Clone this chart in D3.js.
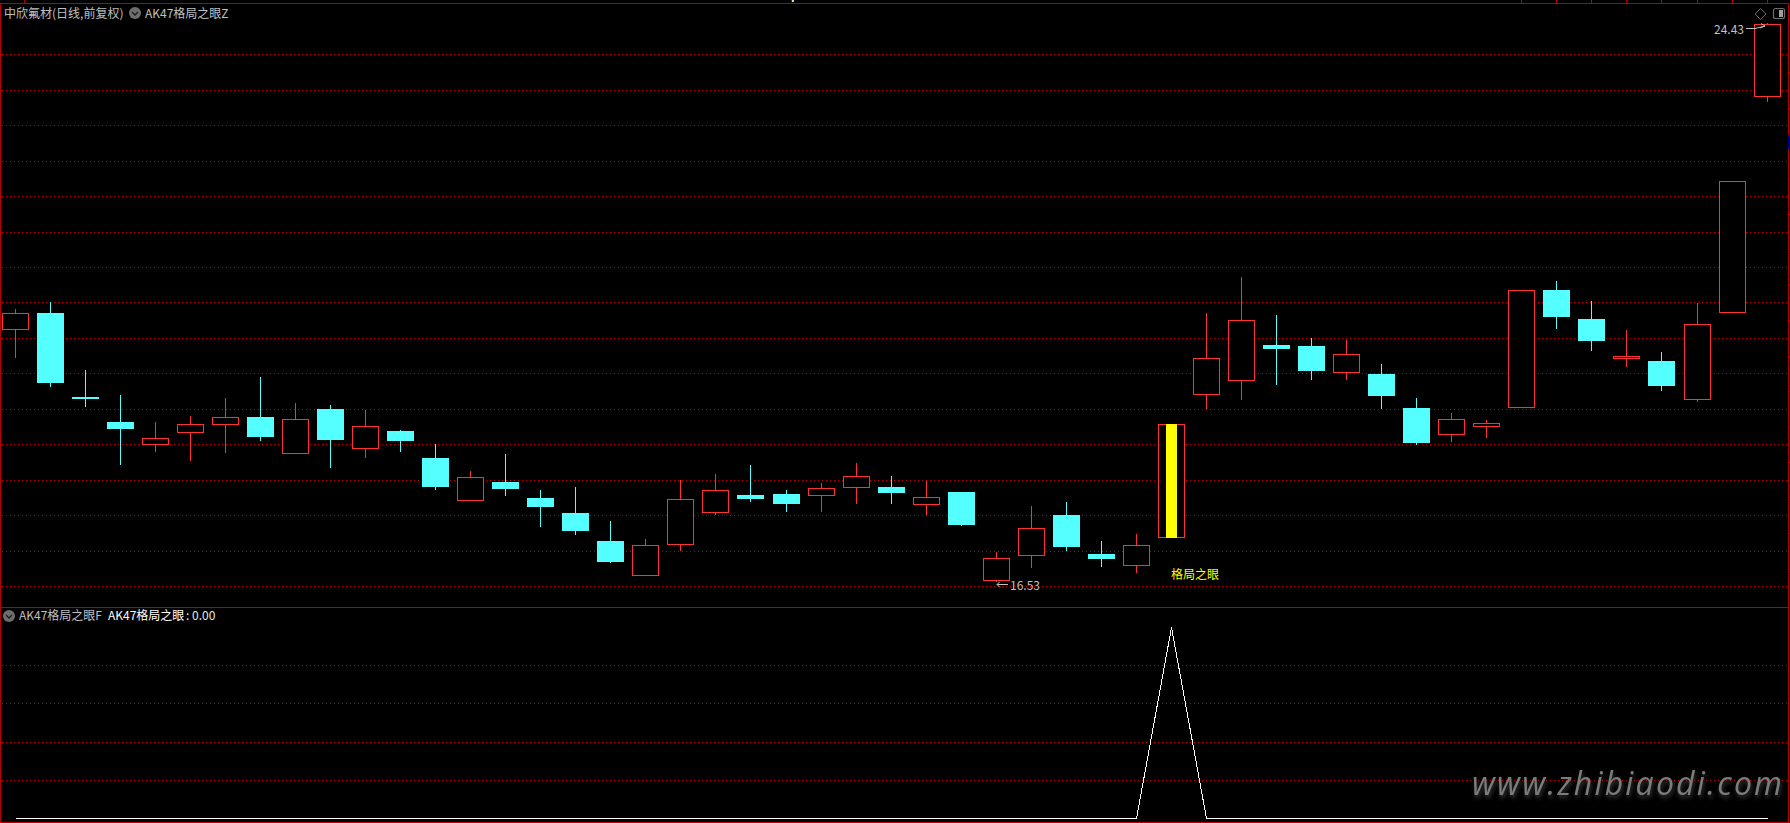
<!DOCTYPE html>
<html>
<head>
<meta charset="utf-8">
<title>中欣氟材 AK47格局之眼</title>
<script src="https://cdn.jsdelivr.net/npm/d3@7/dist/d3.min.js"></script>
<style>
html,body{margin:0;padding:0;background:#000;overflow:hidden}
svg{display:block}
text{font-family:"Noto Sans CJK SC","Noto Sans",sans-serif;font-size:12px}
</style>
</head>
<body>
<svg id="chart" width="1790" height="823"></svg>
<script>
const openPrices = [20.11,20.33,19.14,18.79,18.48,18.65,18.76,18.86,18.35,18.97,18.42,18.66,18.28,17.69,17.94,17.72,17.51,17.11,16.63,17.07,17.52,17.76,17.77,17.76,17.87,17.87,17.63,17.80,16.56,16.91,17.48,16.93,16.77,17.17,19.19,19.38,19.88,19.87,19.50,19.47,18.99,18.62,18.73,19.00,20.66,20.25,19.70,19.65,19.12,20.35,23.40];
const highPrices = [20.39,20.49,19.53,19.17,18.79,18.88,19.13,19.43,19.06,19.03,18.96,18.68,18.48,18.10,18.34,17.83,17.87,17.39,17.14,17.97,18.06,18.18,17.83,17.93,18.21,18.03,17.96,17.80,16.95,17.60,17.66,17.11,17.21,18.76,20.33,20.84,20.30,19.98,19.95,19.61,19.13,18.92,18.82,20.66,20.78,20.50,20.09,19.78,20.47,22.20,24.43];
const lowPrices = [19.70,19.29,19.00,18.18,18.37,18.24,18.35,18.52,18.35,18.14,18.28,18.37,17.83,17.69,17.75,17.31,17.19,16.80,16.63,16.97,17.48,17.66,17.52,17.52,17.63,17.63,17.48,17.32,16.53,16.73,16.97,16.74,16.66,17.17,18.97,19.10,19.31,19.38,19.38,18.97,18.47,18.51,18.57,19.00,20.11,19.79,19.57,19.23,19.07,20.35,23.31];
const closePrices = [20.33,19.34,19.12,18.69,18.57,18.76,18.86,18.58,18.83,18.54,18.73,18.52,17.87,18.01,17.84,17.59,17.25,16.81,17.05,17.70,17.83,17.70,17.63,17.86,18.03,17.79,17.73,17.34,16.87,17.29,17.02,16.86,17.05,18.76,19.70,20.23,19.82,19.51,19.75,19.16,18.49,18.83,18.78,20.66,20.28,19.94,19.72,19.30,20.18,22.20,24.42];
const signalValues = [0,0,0,0,0,0,0,0,0,0,0,0,0,0,0,0,0,0,0,0,0,0,0,0,0,0,0,0,0,0,0,0,0,100,0,0,0,0,0,0,0,0,0,0,0,0,0,0,0,0,0];
const priceGrid = [16.47,16.97,17.48,17.97,18.48,18.97,19.48,19.98,20.49,20.98,21.48,21.98,22.48,22.99,23.48,23.99];
const signalGrid = [20,40,60,80];
const patternIndex = 33;
const patternLabel = "格局之眼";
const stockTitle = "中欣氟材(日线,前复权)";
const mainIndicator = "AK47格局之眼Z";
const subIndicator = "AK47格局之眼F";
const subSeriesName = "AK47格局之眼";
const subSeriesValue = ": 0.00";
const maxLabel = "24.43";
const minLabel = "16.53";
const watermark = "www.zhibiaodi.com";

const RED = "#ff3232", CYAN = "#54ffff", FRAME = "#b80000", GRID = "#c00000", GREY = "#c0c0c0", ICON = "#6e6e6e";
const svg = d3.select("#chart");
const W = 1790, H = 823;

const count = openPrices.length;
const xRaw = d3.scaleLinear().domain([0, count - 1]).range([15.17, 1767.095]);
const x = i => Math.floor(xRaw(i));
const yRaw = d3.scaleLinear().domain([16.53, 24.43]).range([582, 23]);
const y = v => Math.round(yRaw(v));
const ySub = d3.scaleLinear().domain([0, 100]).range([818, 627]);
const halfBody = 13;

const candles = d3.range(count).map(i => ({
  i, o: openPrices[i], h: highPrices[i], l: lowPrices[i], c: closePrices[i], up: closePrices[i] >= openPrices[i]
}));

// grid
const grid = svg.append("g").attr("shape-rendering", "crispEdges");
grid.selectAll("line.main").data(priceGrid).join("line").attr("class", "main")
  .attr("x1", 2).attr("x2", 1787)
  .attr("y1", d => y(d) + .5).attr("y2", d => y(d) + .5)
  .attr("stroke", GRID).attr("stroke-dasharray", "1 3");
grid.selectAll("line.sub").data(signalGrid).join("line").attr("class", "sub")
  .attr("x1", 2).attr("x2", 1787)
  .attr("y1", d => Math.round(ySub(d)) + .5).attr("y2", d => Math.round(ySub(d)) + .5)
  .attr("stroke", GRID).attr("stroke-dasharray", "1 3");

// frame
const frame = svg.append("g").attr("shape-rendering", "crispEdges").attr("fill", FRAME);
frame.append("rect").attr("x", 0).attr("y", 3).attr("width", 1789).attr("height", 1);
frame.append("rect").attr("x", 0).attr("y", 607).attr("width", 1789).attr("height", 1);
frame.append("rect").attr("x", 0).attr("y", 822).attr("width", 1789).attr("height", 1);
frame.append("rect").attr("x", 0).attr("y", 3).attr("width", 1).attr("height", 820);
frame.append("rect").attr("x", 1788).attr("y", 3).attr("width", 1).attr("height", 820);
frame.append("rect").attr("x", 24).attr("y", 0).attr("width", 1).attr("height", 3);
frame.selectAll("rect.top").data(d3.range(count - 8, count)).join("rect").attr("class", "top")
  .attr("x", d => x(d)).attr("y", 0).attr("width", 1).attr("height", 3);
frame.selectAll("rect.side").data(d3.pairs(priceGrid, (a, b) => (a + b) / 2)).join("rect").attr("class", "side")
  .attr("x", 1789).attr("y", d => y(d)).attr("width", 1).attr("height", 1);
svg.append("rect").attr("x", 1788).attr("y", 135).attr("width", 2).attr("height", 14).attr("fill", "#000080").attr("shape-rendering", "crispEdges");
svg.append("rect").attr("x", 791).attr("y", 0).attr("width", 1).attr("height", 2).attr("fill", "#203060").attr("shape-rendering", "crispEdges");
svg.append("rect").attr("x", 792).attr("y", 0).attr("width", 2).attr("height", 2).attr("fill", "#e8d8b0").attr("shape-rendering", "crispEdges");

// candles
const cg = svg.append("g").attr("shape-rendering", "crispEdges");
const hollow = candles.filter(d => d.up), solid = candles.filter(d => !d.up);
cg.selectAll("rect.wick").data(candles).join("rect").attr("class", "wick")
  .attr("x", d => x(d.i)).attr("width", 1)
  .attr("y", d => y(d.h)).attr("height", d => y(d.l) - y(d.h))
  .attr("fill", d => d.up ? RED : CYAN);
cg.selectAll("rect.hollow").data(hollow).join("rect").attr("class", "hollow")
  .attr("x", d => x(d.i) - halfBody + .5).attr("width", halfBody * 2)
  .attr("y", d => y(d.c) + .5).attr("height", d => y(d.o) - y(d.c))
  .attr("fill", "#000").attr("stroke", RED);
cg.selectAll("rect.solid").data(solid).join("rect").attr("class", "solid")
  .attr("x", d => x(d.i) - halfBody).attr("width", halfBody * 2 + 1)
  .attr("y", d => y(d.o)).attr("height", d => y(d.c) - y(d.o))
  .attr("fill", CYAN);
cg.append("rect")
  .attr("x", x(patternIndex) - 5).attr("width", 11)
  .attr("y", y(closePrices[patternIndex]))
  .attr("height", y(openPrices[patternIndex]) - y(closePrices[patternIndex]) + 1)
  .attr("fill", "#ffff00");

// signal line
svg.append("path")
  .attr("d", d3.line().x((d, i) => x(i) + .5).y(d => Math.round(ySub(d)) + .5)(signalValues))
  .attr("fill", "none").attr("stroke", "#fff").attr("stroke-width", 1).attr("shape-rendering", "crispEdges");

// texts
const label = (tx, ty, s, fill, anchor) => svg.append("text").attr("x", tx).attr("y", ty).attr("fill", fill)
  .attr("text-anchor", anchor || "start").text(s);
label(4, 18, stockTitle, GREY);
label(145, 18, mainIndicator, GREY);
label(19, 620, subIndicator, GREY);
label(108, 620, subSeriesName, "#ffffff");
label(186, 620, subSeriesValue, "#e8e8e8");
label(x(patternIndex), 579, patternLabel, "#ffff00");
label(1714, 34, maxLabel, GREY);
label(1010, 590, minLabel, GREY);

// extreme arrows
const arrows = svg.append("g").attr("fill", "none").attr("stroke", GREY);
arrows.append("path").attr("d", d3.line()([[1746, 28.5], [1755, 28.5], [1765, 26], [1761, 23.5]]));
arrows.append("path").attr("d", d3.line()([[1765, 26], [1760, 28]]));
arrows.append("path").attr("d", d3.line()([[1008, 584.5], [997, 584.5], [1000, 581.5]]));
arrows.append("path").attr("d", d3.line()([[997, 584.5], [1000, 587.5]]));

// dropdown icons
[[135, 13], [9, 616]].forEach(([cx, cy]) => {
  svg.append("circle").attr("cx", cx).attr("cy", cy).attr("r", 6).attr("fill", ICON);
  svg.append("path").attr("d", d3.line()([[cx - 3, cy - 1], [cx, cy + 2], [cx + 3, cy - 1]]))
    .attr("fill", "none").attr("stroke", "#1e1e1e").attr("stroke-width", 1.4);
});
// top-right icons
svg.append("path").attr("d", d3.line().curve(d3.curveLinearClosed)([[1760.5, 8.5], [1766, 14], [1760.5, 19.5], [1755, 14]]))
  .attr("fill", "none").attr("stroke", ICON);
svg.append("rect").attr("x", 1773.5).attr("y", 8.5).attr("width", 11).attr("height", 10).attr("rx", 2)
  .attr("fill", "none").attr("stroke", ICON).attr("stroke-width", 1.2);
svg.append("rect").attr("x", 1779).attr("y", 10).attr("width", 4).attr("height", 7).attr("fill", "#a0a0a0");

// watermark
const defs = svg.append("defs");
defs.append("filter").attr("id", "wm").attr("x", "-5%").attr("y", "-30%").attr("width", "110%").attr("height", "160%")
  .append("feDropShadow").attr("dx", 1).attr("dy", 3).attr("stdDeviation", 2).attr("flood-color", "#4a4a4a").attr("flood-opacity", .8);
svg.append("text").attr("x", 1472).attr("y", 795)
  .attr("textLength", 310).attr("lengthAdjust", "spacing")
  .style("font-family", "'Open Sans','DejaVu Sans',sans-serif")
  .style("font-size", "32px").style("font-style", "italic").style("font-weight", 400)
  .attr("fill", "#7c7c7c").attr("filter", "url(#wm)").text(watermark);
</script>
</body>
</html>
